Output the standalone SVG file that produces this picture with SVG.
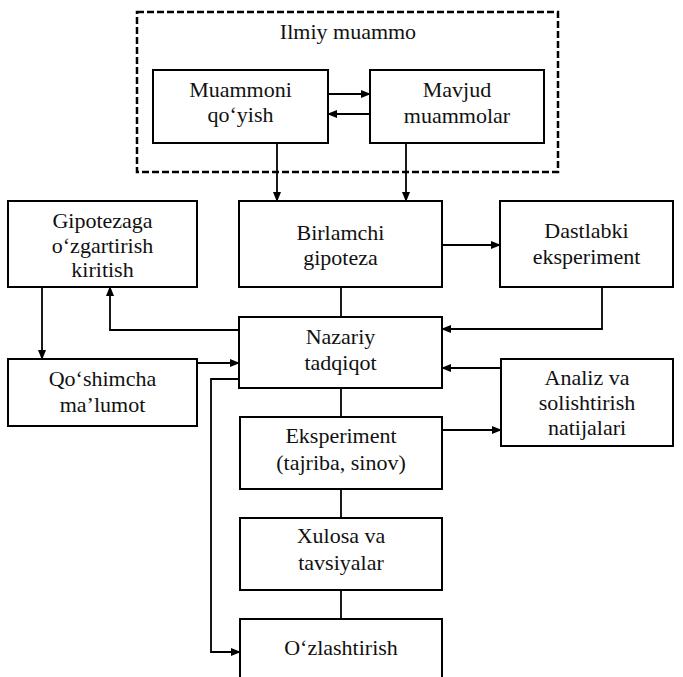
<svg xmlns="http://www.w3.org/2000/svg" width="683" height="677" viewBox="0 0 683 677">
  <style>
    .box { fill: #ffffff; stroke: #000000; stroke-width: 2; }
    .frame { fill: none; stroke: #000000; stroke-width: 2.5; stroke-dasharray: 7 3; }
    .conn { fill: none; stroke: #000000; stroke-width: 1.8; }
    .arr { marker-end: url(#head); }
  </style>
  <defs>
    <marker id="head" markerUnits="userSpaceOnUse" markerWidth="10" markerHeight="8" refX="9" refY="4" orient="auto">
      <path d="M0,0 L10,4 L0,8 Z" fill="#000000"/>
    </marker>
  </defs>
  <rect width="683" height="677" fill="#ffffff"/>

  <g font-family="Liberation Serif, Times New Roman, Times, DejaVu Serif, serif" font-size="22" fill="#111111" text-anchor="middle">
  <!-- problem frame -->
  <g id="ilmiy-muammo">
    <rect class="frame" x="137" y="12" width="421" height="160"/>
    <text x="348" y="39">Ilmiy muammo</text>
  </g>

  <g id="muammoni-qoyish">
    <rect class="box" x="153" y="70" width="175" height="73"/>
    <text x="240.5" y="97">Muammoni</text>
    <text x="240.5" y="122">qo‘yish</text>
  </g>

  <g id="mavjud-muammolar">
    <rect class="box" x="370" y="70" width="174" height="73"/>
    <text x="457" y="97">Mavjud</text>
    <text x="457" y="123">muammolar</text>
  </g>

  <g id="gipotezaga">
    <rect class="box" x="8" y="201" width="189" height="86"/>
    <text x="102.5" y="228">Gipotezaga</text>
    <text x="102.5" y="253">o‘zgartirish</text>
    <text x="102.5" y="277">kiritish</text>
  </g>

  <g id="birlamchi-gipoteza">
    <rect class="box" x="239" y="201" width="203" height="86"/>
    <text x="340.5" y="240">Birlamchi</text>
    <text x="340.5" y="265">gipoteza</text>
  </g>

  <g id="dastlabki-eksperiment">
    <rect class="box" x="500" y="201" width="173" height="86"/>
    <text x="586.5" y="238">Dastlabki</text>
    <text x="586.5" y="264">eksperiment</text>
  </g>

  <g id="nazariy-tadqiqot">
    <rect class="box" x="239" y="317" width="203" height="71"/>
    <text x="340.5" y="344">Nazariy</text>
    <text x="340.5" y="370">tadqiqot</text>
  </g>

  <g id="qoshimcha-malumot">
    <rect class="box" x="8" y="359" width="189" height="67"/>
    <text x="102.5" y="386">Qo‘shimcha</text>
    <text x="102.5" y="412">ma’lumot</text>
  </g>

  <g id="analiz">
    <rect class="box" x="501" y="359" width="172" height="87"/>
    <text x="587" y="385">Analiz va</text>
    <text x="587" y="410">solishtirish</text>
    <text x="587" y="435">natijalari</text>
  </g>

  <g id="eksperiment">
    <rect class="box" x="240" y="417" width="202" height="72"/>
    <text x="341" y="443">Eksperiment</text>
    <text x="341" y="470">(tajriba, sinov)</text>
  </g>

  <g id="xulosa">
    <rect class="box" x="240" y="518" width="202" height="72"/>
    <text x="341" y="543">Xulosa va</text>
    <text x="341" y="570">tavsiyalar</text>
  </g>

  <g id="ozlashtirish">
    <rect class="box" x="240" y="619" width="202" height="70"/>
    <text x="341" y="655">O‘zlashtirish</text>
  </g>
  </g>

  <!-- connectors -->
  <g id="connectors">
    <path class="conn arr" d="M328,94 H370"/>
    <path class="conn arr" d="M370,114 H328"/>
    <path class="conn arr" d="M277,143 V201"/>
    <path class="conn arr" d="M406,143 V201"/>
    <path class="conn arr" d="M442,245 H500"/>
    <path class="conn" d="M341,287 V317"/>
    <path class="conn arr" d="M602,287 V329 H442"/>
    <path class="conn arr" d="M239,330 H110 V287"/>
    <path class="conn arr" d="M42,287 V359"/>
    <path class="conn arr" d="M197,363 H239"/>
    <path class="conn arr" d="M501,368 H442"/>
    <path class="conn" d="M341,388 V417"/>
    <path class="conn arr" d="M442,430 H501"/>
    <path class="conn" d="M341,489 V518"/>
    <path class="conn" d="M341,590 V619"/>
    <path class="conn arr" d="M239,379 H211 V652 H240"/>
  </g>
</svg>
